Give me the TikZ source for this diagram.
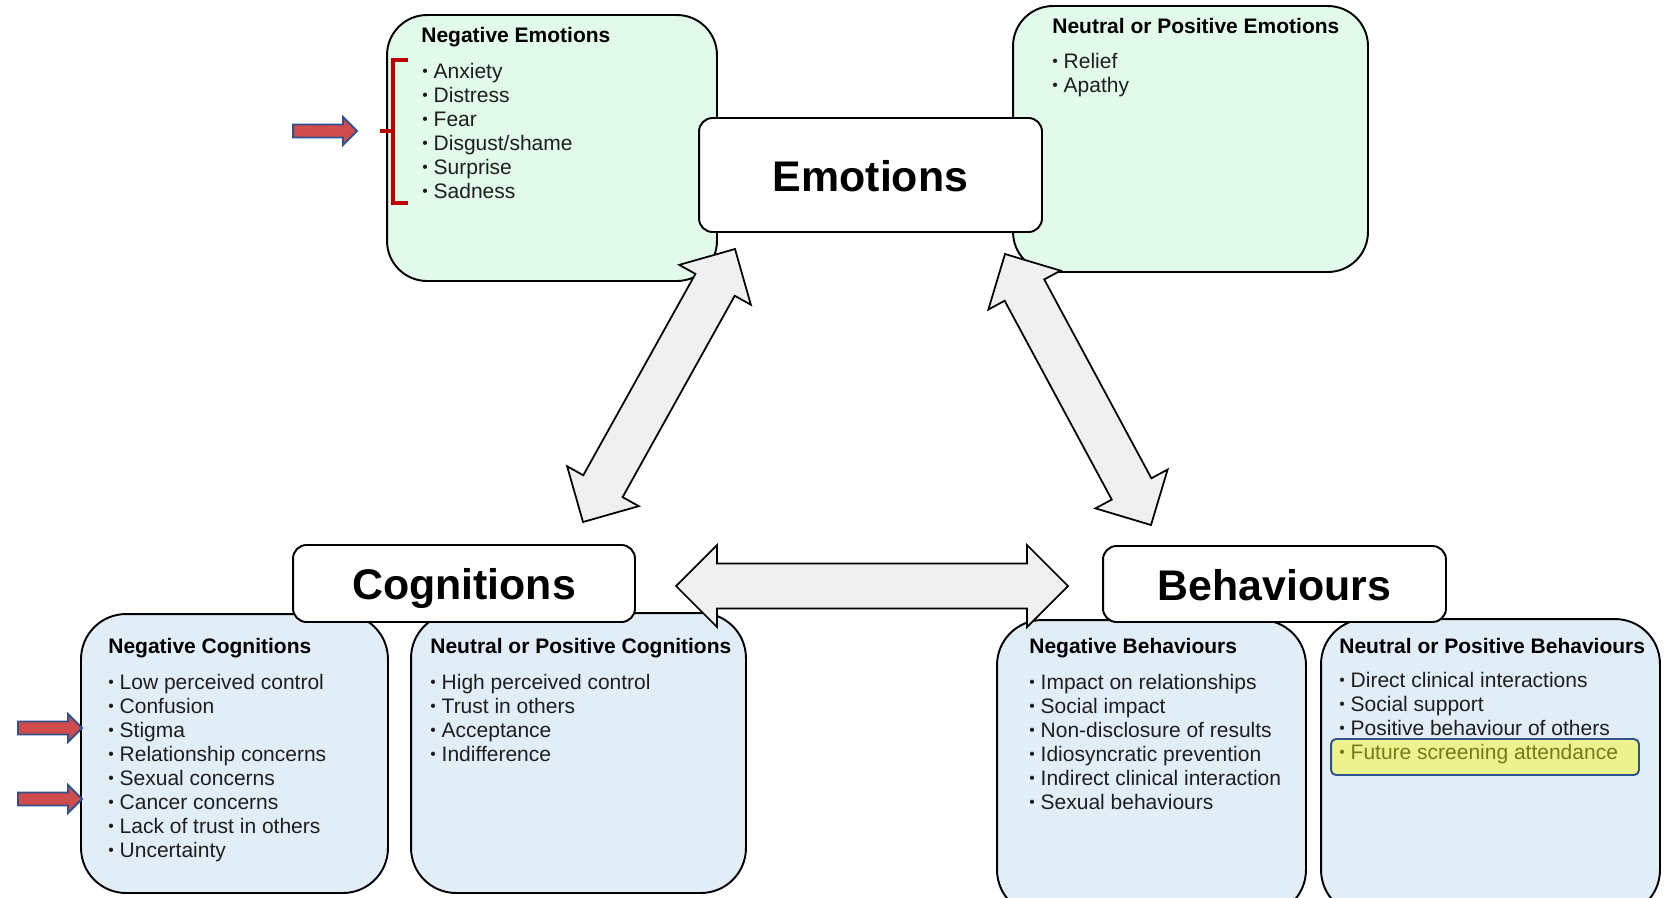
\documentclass[tikz,border=0pt]{standalone}
\usepackage{fontspec}
\setmainfont{Liberation Sans}
\usetikzlibrary{calc}
\definecolor{greenbox}{RGB}{226,250,233}
\definecolor{bluebox}{RGB}{225,238,248}
\definecolor{arrowgray}{RGB}{240,240,240}
\definecolor{redfill}{RGB}{208,76,76}
\definecolor{blueedge}{RGB}{47,82,143}
\definecolor{bracered}{RGB}{192,0,0}
\definecolor{hlfill}{RGB}{236,242,140}
\definecolor{hltext}{RGB}{120,120,30}
\definecolor{txt}{RGB}{30,30,30}
\newcommand\arrhl{0.82cm}
\newcommand\arrhw{0.82cm}
\newcommand\arrsw{0.45cm}
\newcommand\bul{\raisebox{0.6pt}{\scalebox{0.75}{•}}\ }
\newcommand\dblarrow[3]{%
  \coordinate (#3a) at ($(#1)!\arrhl!(#2)$);
  \coordinate (#3b) at ($(#2)!\arrhl!(#1)$);
  \draw[bigarrow] (#1) -- ($(#3a)!\arrhw!90:(#2)$) -- ($(#3a)!\arrsw!90:(#2)$)
    -- ($(#3b)!\arrsw!-90:(#1)$) -- ($(#3b)!\arrhw!-90:(#1)$) -- (#2)
    -- ($(#3b)!\arrhw!90:(#1)$) -- ($(#3b)!\arrsw!90:(#1)$)
    -- ($(#3a)!\arrsw!-90:(#2)$) -- ($(#3a)!\arrhw!-90:(#2)$) -- cycle;}
\newcommand\redarrow[1]{%
  \draw[redarr,shift={(#1)}] (-64,-6.5) -- (-14,-6.5) -- (-14,-14) -- (0,0)
    -- (-14,14) -- (-14,6.5) -- (-64,6.5) -- cycle;}
\tikzset{
  box/.style={draw=black, line width=1.1pt, inner sep=0pt, outer sep=0pt},
  bigbox/.style={box, rounded corners=0.8cm},
  lowbox/.style={box, rounded corners=0.9cm, fill=bluebox},
  titlebox/.style={box, fill=white, rounded corners=0.27cm},
  bigarrow/.style={draw=black, line width=1pt, fill=arrowgray, line join=miter},
  redarr/.style={draw=blueedge, line width=1.1pt, fill=redfill, line join=miter},
  item/.style={anchor=base west, inner sep=0pt, text=txt, font=\fontsize{11.95}{14}\selectfont},
  head/.style={anchor=base west, inner sep=0pt, text=black, font=\fontsize{11.95}{14}\selectfont\bfseries},
  bigtitle/.style={anchor=base, inner sep=0pt, text=black, font=\fontsize{24.4}{28}\selectfont\bfseries},
}
\begin{document}
\begin{tikzpicture}[x=0.02cm, y=-0.02cm]
\clip (0,0) rectangle (1668,897);
\fill[white] (0,0) rectangle (1668,897);
% emotion boxes
\node[bigbox, fill=greenbox, minimum width=6.6cm, minimum height=5.32cm] (negemo) at (552,148) {};
\node[bigbox, fill=greenbox, minimum width=7.1cm, minimum height=5.32cm] (posemo) at (1190.5,139) {};
\node[titlebox, minimum width=6.86cm, minimum height=2.28cm] (emo) at (870.5,175) {};
\node[bigtitle] (emotxt) at (870.5,191) {Emotions};
% diagonal arrows
\coordinate (ecA) at (735,249);
\coordinate (ecB) at (583,522);
\coordinate (ebA) at (1005,254);
\coordinate (ebB) at (1151,525);
\dblarrow{ecA}{ecB}{ec}
\dblarrow{ebA}{ebB}{eb}
% cognition boxes
\node[lowbox, minimum width=6.14cm, minimum height=5.58cm] (negcog) at (234.5,753.5) {};
\node[lowbox, minimum width=6.7cm, minimum height=5.6cm] (poscog) at (578.5,753) {};
\node[titlebox, minimum width=6.84cm, minimum height=1.54cm] (cog) at (464,583.5) {};
\node[bigtitle] (cogtxt) at (464,599) {Cognitions};
% behaviour boxes
\node[lowbox, minimum width=6.18cm, minimum height=5.9cm] (negbeh) at (1151.5,767.5) {};
\node[lowbox, minimum width=6.78cm, minimum height=5.92cm] (posbeh) at (1490.5,767) {};
% horizontal arrow
\coordinate (cbA) at (676,586);
\coordinate (cbB) at (1068,586);
\dblarrow{cbA}{cbB}{cb}
\node[titlebox, minimum width=6.86cm, minimum height=1.52cm] (beh) at (1274.5,584) {};
\node[bigtitle] (behtxt) at (1274.5,600) {Behaviours};
% texts
\node[head] (negemoh) at (421,42) {Negative Emotions};
\foreach \t [count=\i] in {Anxiety, Distress, Fear, Disgust/shame, Surprise, Sadness}
  \node[item] (negemo\i) at (422,{78+24*(\i-1)}) {\bul\t};
\node[head] (posemoh) at (1052,33) {Neutral or Positive Emotions};
\foreach \t [count=\i] in {Relief, Apathy}
  \node[item] (posemo\i) at (1052,{68+24*(\i-1)}) {\bul\t};
\node[head] (negcogh) at (108,653) {Negative Cognitions};
\foreach \t [count=\i] in {Low perceived control, Confusion, Stigma, Relationship concerns, Sexual concerns, Cancer concerns, Lack of trust in others, Uncertainty}
  \node[item] (negcog\i) at (108,{689+24*(\i-1)}) {\bul\t};
\node[head] (poscogh) at (430,653) {Neutral or Positive Cognitions};
\foreach \t [count=\i] in {High perceived control, Trust in others, Acceptance, Indifference}
  \node[item] (poscog\i) at (430,{689+24*(\i-1)}) {\bul\t};
\node[head] (negbehh) at (1029,653) {Negative Behaviours};
\foreach \t [count=\i] in {Impact on relationships, Social impact, Non-disclosure of results, Idiosyncratic prevention, Indirect clinical interaction, Sexual behaviours}
  \node[item] (negbeh\i) at (1029,{689+24*(\i-1)}) {\bul\t};
\node[head] (posbehh) at (1339,653) {Neutral or Positive Behaviours};
\foreach \t [count=\i] in {Direct clinical interactions, Social support, Positive behaviour of others}
  \node[item] (posbeh\i) at (1339,{687+24*(\i-1)}) {\bul\t};
\node[draw=blueedge, line width=1.1pt, fill=hlfill, rounded corners=0.1cm, inner sep=0pt,
      minimum width=6.16cm, minimum height=0.72cm] (hl) at (1485,757) {};
\node[item, text=hltext] (posbeh4) at (1339,759) {\bul Future screening attendance};
% red markers
\redarrow{357,131}
\redarrow{82,728}
\redarrow{82,799}
\draw[bracered, line width=2.2pt] (408,60) -- (393,60) -- (393,203) -- (408,203);
\draw[bracered, line width=2.2pt] (393,131) -- (380,131);
\end{tikzpicture}
\end{document}
